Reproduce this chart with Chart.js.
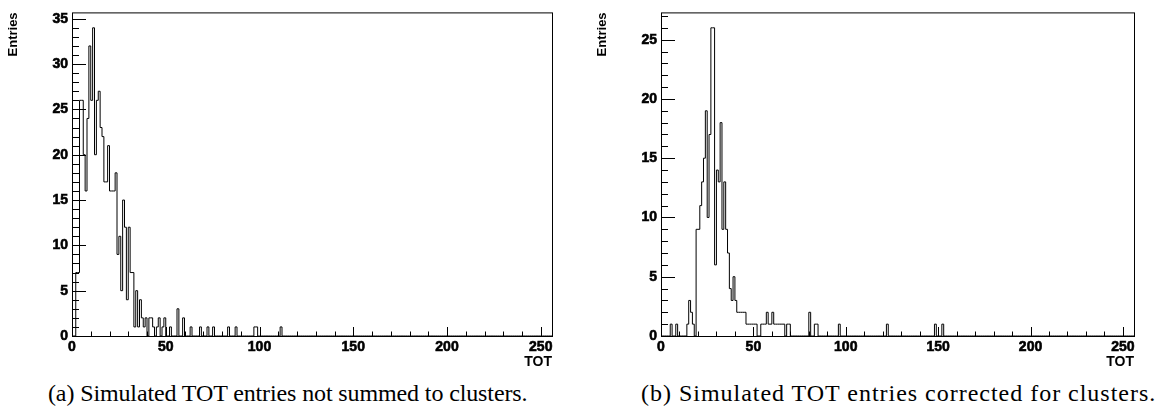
<!DOCTYPE html>
<html>
<head>
<meta charset="utf-8">
<style>
  body { margin: 0; background: #fff; width: 1160px; height: 419px; overflow: hidden; position: relative; }
  .plot { position: absolute; top: 0; }
  .cap { position: absolute; top: 380px; font-family: 'Liberation Serif', serif; font-size: 24px; white-space: nowrap; color: #000; }
</style>
</head>
<body>
<div class="plot" style="left:0"><canvas id="totA" width="580" height="375"></canvas></div>
<div class="plot" style="left:589px"><canvas id="totB" width="571" height="375"></canvas></div>
<div class="cap" id="capA" style="left:48px">(a) Simulated TOT entries not summed to clusters.</div>
<div class="cap" id="capB" style="left:641px">(b) Simulated TOT entries corrected for clusters.</div>

<script src="https://cdn.jsdelivr.net/npm/chart.js"></script>
<script>
  const NBINS = 256;

  // (a) hits not summed to clusters: TOT bin -> entries (empty bins left out)
  const binsA = [3, 4, 5, 6, 7, 8, 9, 10, 11, 12, 13, 14, 15, 16, 17, 18, 19, 20, 21, 22, 23, 24,
    25, 26, 27, 28, 29, 30, 31, 32, 33, 34, 35, 36, 37, 38, 39, 40, 42, 43, 44, 46, 47, 49, 50,
    53, 57, 60, 64, 69, 73, 76, 84, 88, 98, 99, 112];
  const entriesA = [7, 7, 26, 26, 20, 16, 24, 32, 26, 34, 20, 26, 27, 23, 22, 17, 17, 21, 16, 16, 16, 18,
    9, 11, 5, 15, 12, 4, 12, 7, 7, 1, 5, 1, 4, 2, 1, 2, 2, 2, 1, 1, 2, 1, 2,
    1, 3, 2, 1, 1, 1, 1, 1, 1, 1, 1, 1];

  // (b) corrected for clusters
  const binsB = [6, 9, 15, 16, 17, 18, 20, 21, 22, 23, 24, 25, 26, 27, 28, 29, 30, 31, 32, 33, 34,
    35, 36, 37, 38, 39, 40, 41, 42, 43, 44, 45, 46, 47, 48, 49, 50, 51, 52, 55, 56, 57, 58, 59,
    60, 61, 62, 63, 64, 65, 66, 67, 69, 70, 81, 84, 85, 97, 123, 149, 153];
  const entriesB = [1, 1, 1, 3, 2, 1, 9, 9, 11, 13, 15, 19, 10, 17, 26, 26, 6, 14, 13, 18, 9,
    13, 9, 7, 4, 3, 5, 3, 2, 2, 2, 2, 2, 1, 1, 1, 1, 1, 1, 1, 1, 1, 2, 1,
    1, 2, 1, 1, 1, 1, 1, 1, 1, 1, 2, 1, 1, 1, 1, 1, 1];

  const yTicksA = [0, 5, 10, 15, 20, 25, 30, 35];
  const yTicksB = [0, 5, 10, 15, 20, 25];
  const xTicks = [0, 50, 100, 150, 200, 250];

  Chart.defaults.font.family = 'Liberation Sans';
  Chart.defaults.font.weight = 'bold';
  Chart.defaults.color = '#000';

  function histPoints(bins, entries) {
    const counts = new Array(NBINS).fill(0);
    bins.forEach((b, i) => { counts[b] = entries[i]; });
    const pts = counts.map((c, i) => ({ x: i, y: c }));
    pts.push({ x: NBINS, y: 0 });
    return pts;
  }

  // ROOT style: closed frame, ticks pointing into the pad
  const rootFrame = {
    id: 'rootFrame',
    afterDatasetsDraw(chart) {
      const { ctx, chartArea: a, scales: { x, y } } = chart;
      ctx.save();
      ctx.strokeStyle = '#000';
      ctx.lineWidth = 1;
      ctx.strokeRect(a.left + 0.5, a.top + 0.5, a.width, a.height);
      ctx.beginPath();
      for (let v = 0; v <= y.max; v += 1) {
        const py = Math.round(y.getPixelForValue(v)) + 0.5;
        ctx.moveTo(a.left, py);
        ctx.lineTo(a.left + (v % 5 === 0 ? 14 : 7), py);
      }
      for (let v = 0; v <= x.max; v += 10) {
        const px = Math.round(x.getPixelForValue(v)) + 0.5;
        ctx.moveTo(px, a.bottom);
        ctx.lineTo(px, a.bottom - (v % 50 === 0 ? 9 : 4.5));
      }
      ctx.stroke();
      ctx.restore();
    }
  };

  const bold = size => ({ family: 'Liberation Sans', weight: 'bold', size: size });

  function makeHist(id, bins, entries, yTicks, yMax, padRight) {
    new Chart(document.getElementById(id), {
      type: 'line',
      data: {
        datasets: [{
          data: histPoints(bins, entries),
          stepped: 'after',
          borderColor: '#000',
          borderWidth: 1,
          pointRadius: 0,
          fill: false
        }]
      },
      options: {
        responsive: false,
        animation: false,
        layout: { padding: { top: 10, right: padRight, left: 0, bottom: 0 } },
        plugins: { legend: { display: false }, tooltip: { enabled: false } },
        scales: {
          x: {
            type: 'linear', min: 0, max: NBINS,
            grid: { display: false, drawTicks: false }, border: { display: false },
            afterBuildTicks: s => { s.ticks = xTicks.map(v => ({ value: v })); },
            ticks: { autoSkip: false, maxRotation: 0, padding: 3, font: () => bold(14), textStrokeColor: '#000', textStrokeWidth: 0.6 },
            title: { display: true, text: 'TOT', align: 'end', font: bold(14), padding: { top: 0, bottom: 4 } },
            afterFit: s => { s.height = 39; }
          },
          y: {
            type: 'linear', min: 0, max: yMax,
            grid: { display: false, drawTicks: false }, border: { display: false },
            afterBuildTicks: s => { s.ticks = yTicks.map(v => ({ value: v })); },
            ticks: { padding: 4, font: () => bold(14), textStrokeColor: '#000', textStrokeWidth: 0.6 },
            title: { display: true, text: 'Entries', align: 'end', font: bold(13), padding: { top: 6, bottom: 0 } },
            afterFit: s => { s.width = 72; }
          }
        }
      },
      plugins: [rootFrame]
    });
  }

  makeHist('totA', binsA, entriesA, yTicksA, 35.7, 28);
  makeHist('totB', binsB, entriesB, yTicksB, 27.3, 26);

  // fit the captions to the width they take in the figure
  [['capA', 479], ['capB', 515]].forEach(([id, target]) => {
    const el = document.getElementById(id);
    const n = el.textContent.length;
    el.style.letterSpacing = ((target - el.offsetWidth) / n).toFixed(2) + 'px';
  });
</script>
</body>
</html>
